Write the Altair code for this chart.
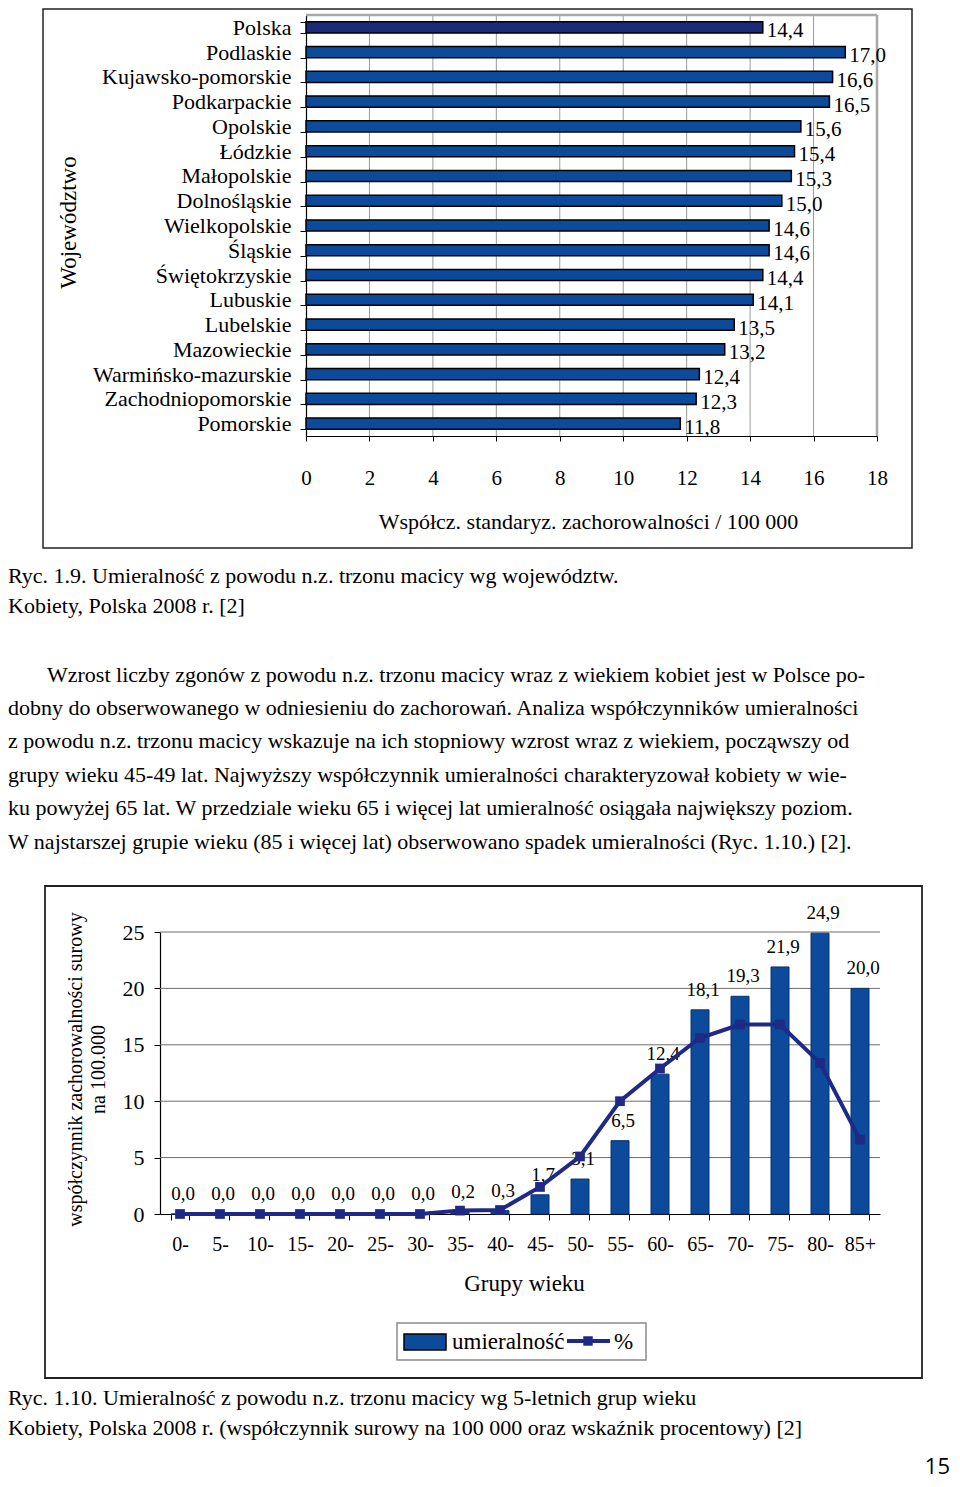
import altair as alt
import pandas as pd

# ---------------- data ----------------
regions = ["Polska", "Podlaskie", "Kujawsko-pomorskie", "Podkarpackie", "Opolskie", "Łódzkie",
           "Małopolskie", "Dolnośląskie", "Wielkopolskie", "Śląskie", "Świętokrzyskie", "Lubuskie",
           "Lubelskie", "Mazowieckie", "Warmińsko-mazurskie", "Zachodniopomorskie", "Pomorskie"]
rates = [14.4, 17.0, 16.6, 16.5, 15.6, 15.4, 15.3, 15.0, 14.6, 14.6, 14.4, 14.1, 13.5, 13.2, 12.4, 12.3, 11.8]
x1_ticks = [0, 2, 4, 6, 8, 10, 12, 14, 16, 18]

age_groups = ["0-", "5-", "10-", "15-", "20-", "25-", "30-", "35-", "40-", "45-", "50-", "55-",
              "60-", "65-", "70-", "75-", "80-", "85+"]
mortality = [0.0, 0.0, 0.0, 0.0, 0.0, 0.0, 0.0, 0.2, 0.3, 1.7, 3.1, 6.5, 12.4, 18.1, 19.3, 21.9, 24.9, 20.0]
percent = [0.0, 0.0, 0.0, 0.0, 0.0, 0.0, 0.0, 0.3, 0.35, 2.4, 5.1, 10.0, 12.9, 15.6, 16.8, 16.8, 13.4, 6.6]
y2_ticks = [0, 5, 10, 15, 20, 25]

legend_labels = ["umieralność", "%"]

caption1 = ["Ryc. 1.9. Umieralność z powodu n.z. trzonu macicy wg województw.",
            "Kobiety, Polska 2008 r. [2]"]
paragraph = [
    "Wzrost liczby zgonów z powodu n.z. trzonu macicy wraz z wiekiem kobiet jest w Polsce po-",
    "dobny do obserwowanego w odniesieniu do zachorowań. Analiza współczynników umieralności",
    "z powodu n.z. trzonu macicy wskazuje na ich stopniowy wzrost wraz z wiekiem, począwszy od",
    "grupy wieku 45-49 lat. Najwyższy współczynnik umieralności charakteryzował kobiety w wie-",
    "ku powyżej 65 lat. W przedziale wieku 65 i więcej lat umieralność osiągała największy poziom.",
    "W najstarszej grupie wieku (85 i więcej lat) obserwowano spadek umieralności (Ryc. 1.10.) [2].",
]
caption2 = ["Ryc. 1.10. Umieralność z powodu n.z. trzonu macicy wg 5-letnich grup wieku",
            "Kobiety, Polska 2008 r. (współczynnik surowy na 100 000 oraz wskaźnik procentowy) [2]"]
page_number = "15"

# ---------------- styling ----------------
FONT = "Liberation Serif"
W, H = 944, 1471
BLUE = "#0c4a9c"
DARK = "#1b2b7a"
NAVY = "#1f2a86"

df1 = pd.DataFrame({"region": regions, "rate": rates})
df2 = pd.DataFrame({"age": age_groups, "val": mortality})
df3 = pd.DataFrame({"age": age_groups, "val": percent})
label_expr = "replace(format(datum.val, '.1f'), '.', ',')"

# ---------------- chart 1 (horizontal bars) ----------------
X1 = alt.X("rate:Q",
           scale=alt.Scale(domain=[0, 18], range=[298, 869], nice=False, zero=True),
           axis=alt.Axis(orient="bottom", offset=428 - H, values=x1_ticks, format="d",
                         tickSize=5, labelPadding=26, labelFontSize=21, labelFlush=False,
                         labelOverlap=False,
                         title="Współcz. standaryz. zachorowalności / 100 000",
                         titleFontSize=22, titleX=580, titleY=85,
                         titleBaseline="middle", titleAlign="center"))
Y1 = alt.Y("region:N", sort=regions,
           scale=alt.Scale(domain=regions, range=[7, 428], paddingInner=0.55, paddingOuter=0.275),
           axis=alt.Axis(orient="left", offset=-298, tickBand="extent", tickSize=6,
                         labelPadding=9, labelFontSize=22, labelLimit=400,
                         title="Województwo", titleFontSize=23, titleAngle=270,
                         titleX=60 - 298, titleY=214, titleBaseline="middle", titleAlign="center"))

grid1 = alt.Chart(pd.DataFrame({"rate": x1_ticks[1:-1]})).mark_rule(
    color="#9a9a9a", strokeWidth=1).encode(x=X1, y=alt.value(7), y2=alt.value(428))
right1 = alt.Chart(pd.DataFrame({"rate": [x1_ticks[-1]]})).mark_rule(
    color="#a8a8a8", strokeWidth=2.5).encode(x=X1, y=alt.value(7), y2=alt.value(428))
top1 = alt.Chart(pd.DataFrame({"rate": [x1_ticks[0]], "rate2": [x1_ticks[-1]]})).mark_rule(
    color="#a8a8a8", strokeWidth=2.5).encode(x=X1, x2="rate2:Q", y=alt.value(7))
bars1 = alt.Chart(df1).mark_bar(stroke="black", strokeWidth=1.5).encode(
    x=X1, y=Y1,
    fill=alt.condition(alt.datum.region == "Polska", alt.value(DARK), alt.value(BLUE)))
labels1 = alt.Chart(df1).transform_calculate(
    lab="replace(format(datum.rate, '.1f'), '.', ',')").mark_text(
    align="left", baseline="middle", dx=4, dy=4, fontSize=21, font=FONT, color="black").encode(
    x=X1, y=Y1, text="lab:N")
chart1 = alt.layer(grid1, right1, top1, bars1, labels1)

# ---------------- chart 2 (age groups) ----------------
X2 = alt.X("age:N", sort=age_groups,
           scale=alt.Scale(domain=age_groups, range=[152, 872], paddingInner=0.55, paddingOuter=0.275),
           axis=alt.Axis(orient="bottom", offset=1206 - H, labelAngle=0, tickBand="extent",
                         tickSize=6, labelPadding=14, labelFontSize=20,
                         title="Grupy wieku", titleFontSize=23, titleX=516, titleY=69,
                         titleBaseline="middle", titleAlign="center"))
Y2 = alt.Y("val:Q",
           scale=alt.Scale(domain=[0, 25], range=[1206, 924], nice=False),
           axis=alt.Axis(orient="left", offset=-152, values=y2_ticks, tickSize=6,
                         labelPadding=10, labelFontSize=22,
                         title=["współczynnik zachorowalności surowy", "na 100.000"],
                         titleFontSize=20, titleLineHeight=23, titleAngle=270,
                         titleX=-85, titleY=1061, titleBaseline="middle", titleAlign="center"))

grid2 = alt.Chart(pd.DataFrame({"val": y2_ticks[1:]})).mark_rule(
    color="#6e6e6e", strokeWidth=1).encode(y=Y2, x=alt.value(152), x2=alt.value(872))
bars2 = alt.Chart(df2).mark_bar(fill=BLUE, stroke="#08306e", strokeWidth=1).encode(x=X2, y=Y2)
labels2 = alt.Chart(df2).transform_calculate(lab=label_expr).mark_text(
    baseline="middle", dy=-20, dx=3, fontSize=19, font=FONT, color="black").encode(
    x=X2, y=Y2, text="lab:N")
line2 = alt.Chart(df3).mark_line(color=NAVY, strokeWidth=4).encode(x=X2, y=Y2)
pts2 = alt.Chart(df3).mark_square(size=95, color=NAVY, opacity=1).encode(x=X2, y=Y2)
chart2 = alt.layer(grid2, bars2, labels2, line2, pts2)


# ---------------- decorations / text ----------------
def one():
    return alt.Chart(pd.DataFrame({"k": [0]}))


def text_line(s, x, y, size=22, align="left", font=FONT):
    return alt.Chart(pd.DataFrame({"t": [s]})).mark_text(
        align=align, baseline="middle", fontSize=size, font=font, color="black").encode(
        x=alt.value(x), y=alt.value(y), text="t:N")


frame1 = one().mark_rect(fillOpacity=0, stroke="#222", strokeWidth=1.5).encode(
    x=alt.value(35), x2=alt.value(904), y=alt.value(1), y2=alt.value(540))
frame2 = one().mark_rect(fillOpacity=0, stroke="#222", strokeWidth=1.8).encode(
    x=alt.value(37), x2=alt.value(914), y=alt.value(878), y2=alt.value(1370))

leg_box = one().mark_rect(fillOpacity=0, stroke="#8a8a8a", strokeWidth=1.5).encode(
    x=alt.value(389), x2=alt.value(638), y=alt.value(1315), y2=alt.value(1352))
leg_swatch = one().mark_rect(fill=BLUE, stroke="black", strokeWidth=1.5).encode(
    x=alt.value(396), x2=alt.value(438), y=alt.value(1326), y2=alt.value(1342))
leg_line = one().mark_rule(color=NAVY, strokeWidth=4).encode(
    x=alt.value(559), x2=alt.value(602), y=alt.value(1333))
leg_pt = one().mark_square(size=90, color=NAVY, opacity=1).encode(
    x=alt.value(580), y=alt.value(1333))
leg_t1 = text_line(legend_labels[0], 444, 1334, size=23)
leg_t2 = text_line(legend_labels[1], 606, 1334, size=23)

texts = [
    text_line(caption1[0], 0, 568),
    text_line(caption1[1], 0, 598),
]
para_y = [667, 700, 733, 767, 800, 834]
for i, (s, y) in enumerate(zip(paragraph, para_y)):
    texts.append(text_line(s, 39 if i == 0 else 0, y))
texts += [
    text_line(caption2[0], 0, 1390),
    text_line(caption2[1], 0, 1420),
    text_line(page_number, 942, 1459, size=22, align="right", font="Open Sans"),
]

chart = alt.layer(
    frame1, chart1, frame2, chart2,
    leg_box, leg_swatch, leg_line, leg_pt, leg_t1, leg_t2,
    *texts
).resolve_scale(x="independent", y="independent").properties(
    width=W, height=H, padding=0, autosize=alt.AutoSizeParams(type="none")
).configure_view(stroke=None).configure_axis(
    labelFont=FONT, titleFont=FONT, labelColor="black", titleColor="black",
    domainColor="black", tickColor="black", titleFontWeight="normal", grid=False,
    domainWidth=1.2, tickWidth=1
)

chart.save("out.html", embed_options={"renderer": "svg", "actions": False})
